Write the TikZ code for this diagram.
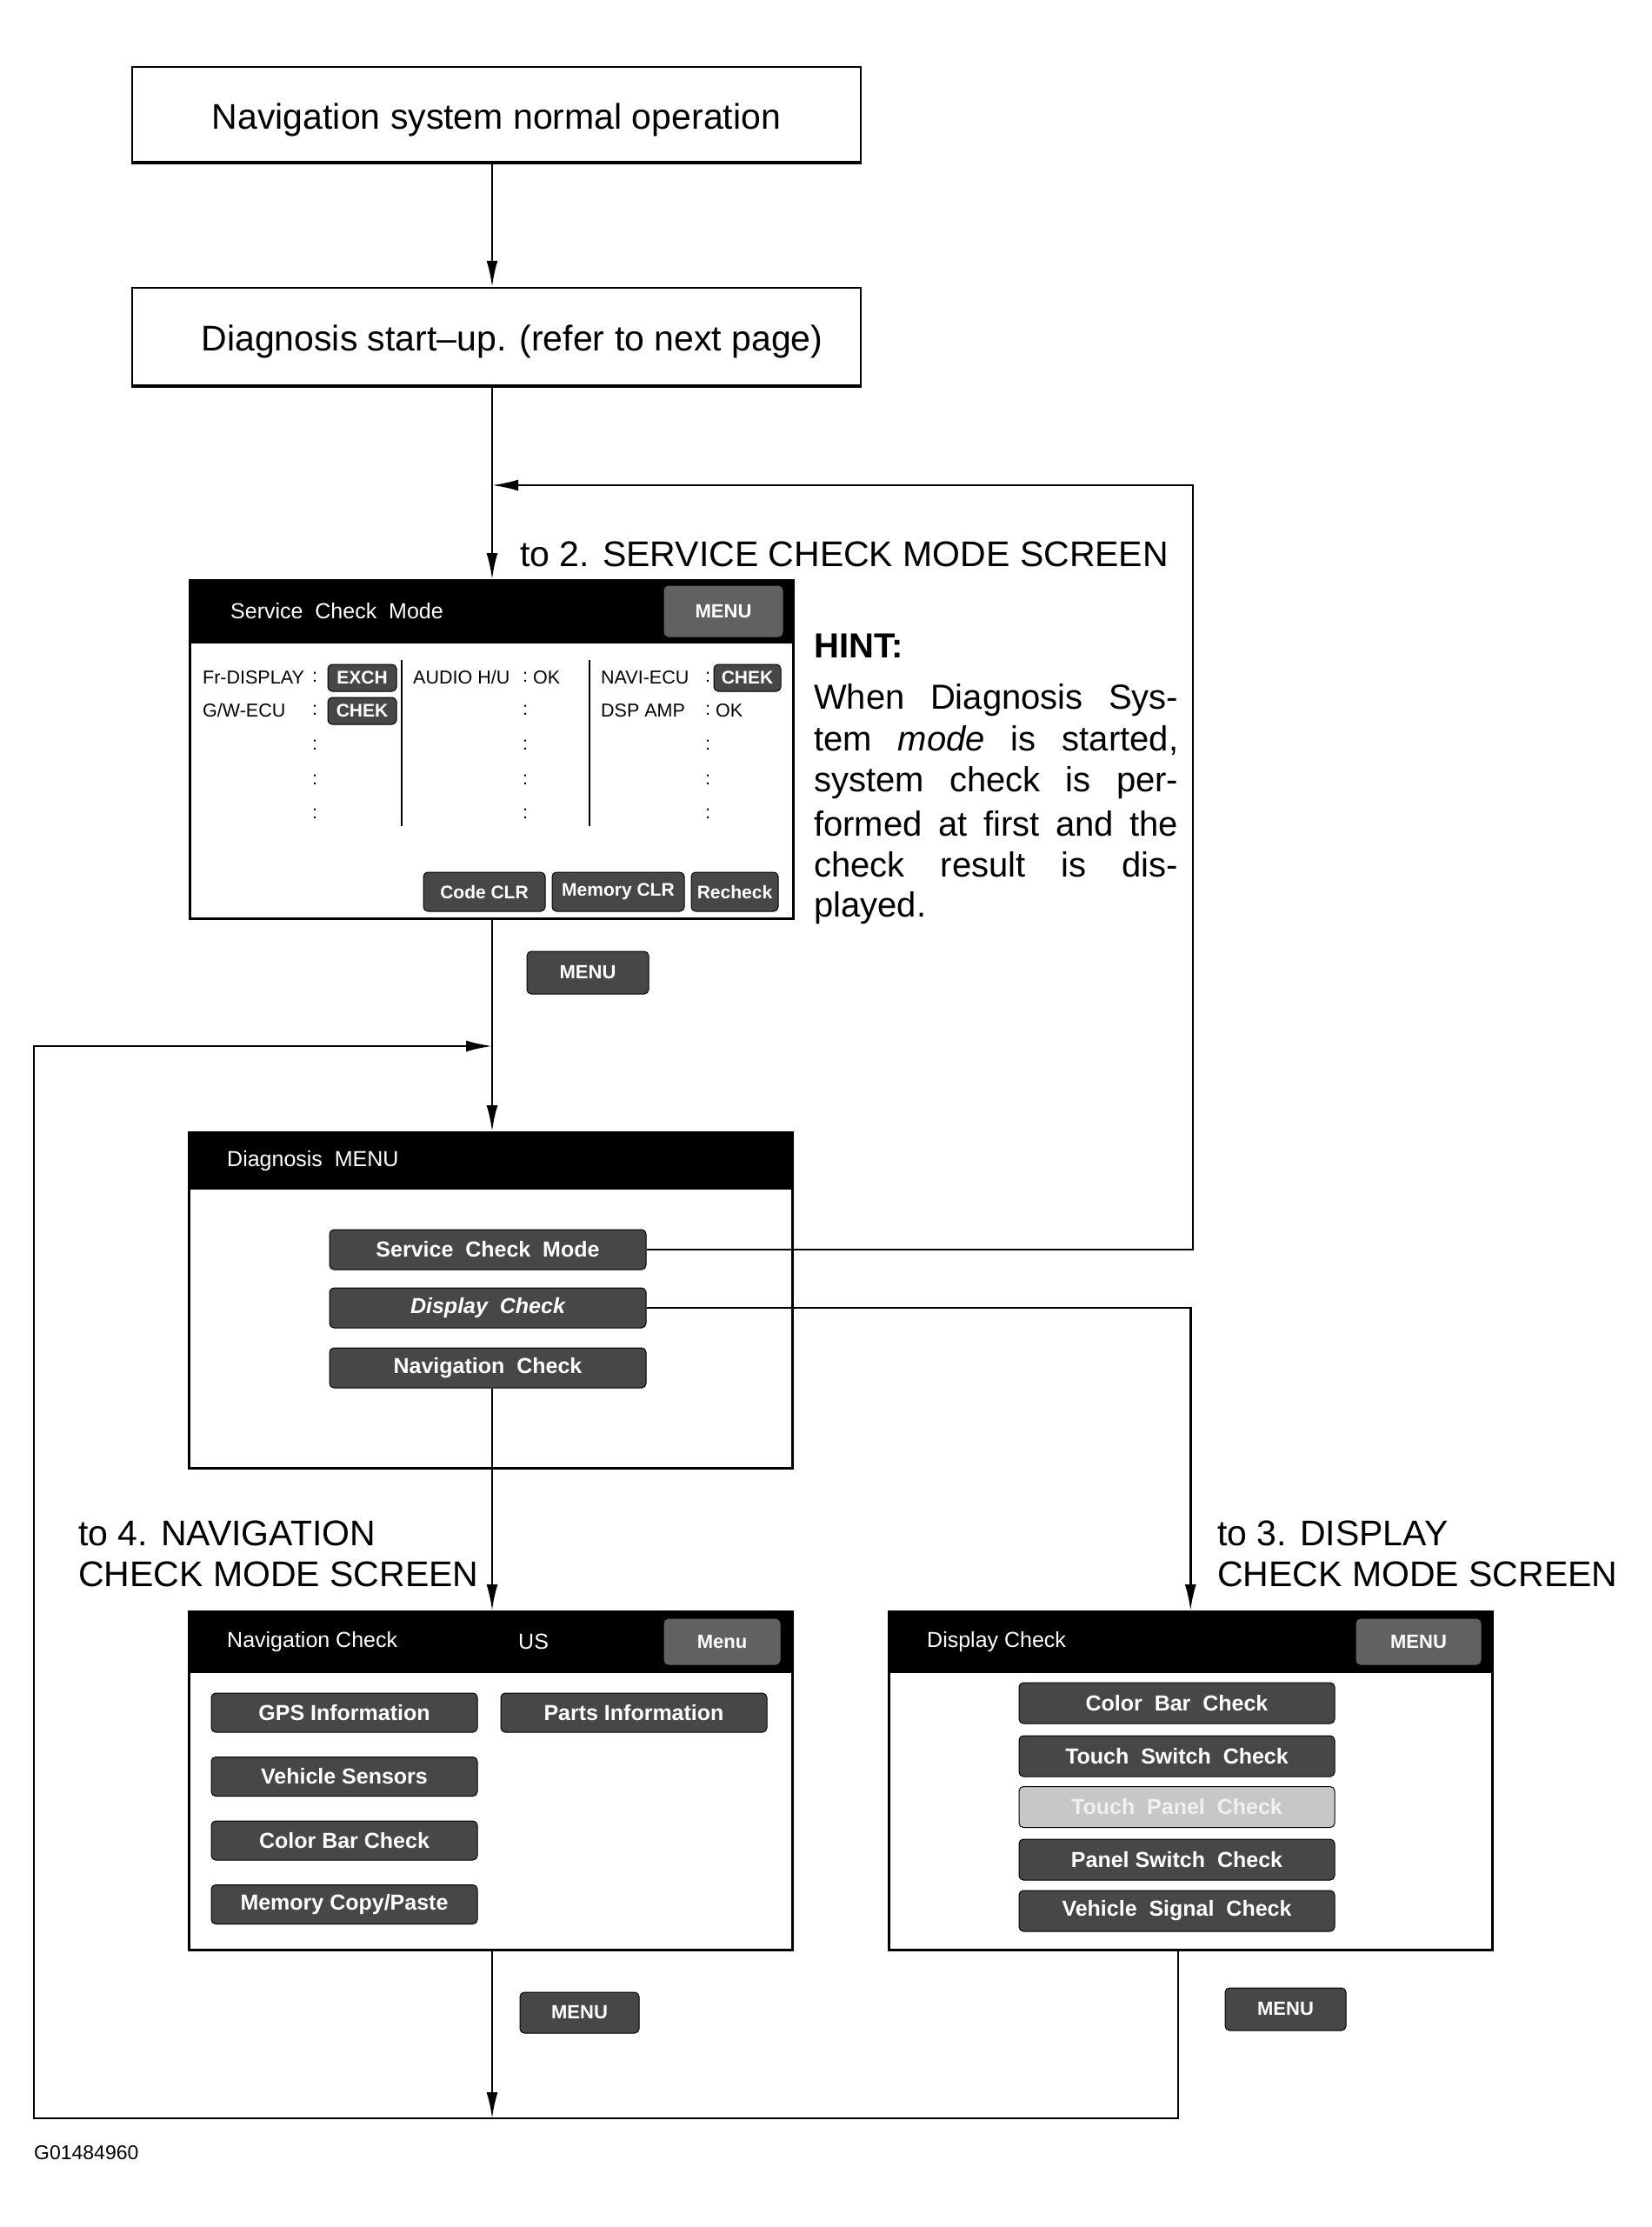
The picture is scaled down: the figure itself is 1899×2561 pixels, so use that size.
\documentclass[tikz,border=0pt]{standalone}
\usepackage{fontspec}
\setmainfont{Liberation Sans}
\usetikzlibrary{arrows.meta,calc}
\newcommand{\fsz}[2]{\fontsize{#1pt}{#2pt}\selectfont}
\begin{document}
\begin{tikzpicture}[x=1pt,y=-1pt,
  arr/.style={line width=2.5pt,-{Latex[length=30pt,width=13pt]}},
  conn/.style={line width=2pt},
  flowbox/.style={draw,line width=2.5pt,inner sep=0,minimum width=838pt,font=\fsz{41}{48}},
  screen/.style={draw,line width=2.5pt,inner sep=0,anchor=north west},
  btn/.style={draw=black,line width=1pt,fill=black!72,rounded corners=5pt,text=white,font=\bfseries\fsz{25}{30},inner sep=0},
  sbtn/.style={btn,font=\bfseries\fsz{21}{25}},
  hbtn/.style={btn,fill=black!62,draw=black!62,font=\bfseries\fsz{22}{26}},
  lbl/.style={font=\fsz{41}{47},anchor=west,inner sep=0,align=left},
  scrtxt/.style={font=\fsz{21.5}{26},anchor=west,inner sep=0},
  hdtxt/.style={font=\fsz{25}{30},text=white,anchor=west,inner sep=0},
  hint/.style={font=\fsz{40}{47},anchor=west,inner sep=0}]
\useasboundingbox[fill=white] (0,0) rectangle (1899,2561);
\coordinate (spine) at (566,0);

% flow boxes
\node[flowbox,minimum height=109pt] (n1) at (571,131.5) {\rule{0pt}{42pt}Navigation system normal operation};
\node[flowbox,minimum height=112pt] (n2) at (571,387) {\rule{0pt}{42pt}\hspace{36pt}Diagnosis start--up. (refer to next page)};
\draw[line width=4pt] (n1.south west) -- (n1.south east);
\draw[line width=4pt] (n2.south west) -- (n2.south east);

% ---------- Service Check Mode screen
\node[screen,minimum width=694pt,minimum height=389pt] (scm) at (217,666) {};
\fill (scm.north west) rectangle ($(scm.north east)+(0,74)$);
\node[hdtxt] (scmt) at (265,703) {Service\ \ Check\ \ Mode};
\node[hbtn,minimum width=136pt,minimum height=58pt] (scmm) at (832,703) {MENU};
% column 1
\node[scrtxt] (c1a) at (233,779) {Fr-DISPLAY};
\node[scrtxt] (c1b) at (233,817) {G/W-ECU};
\foreach \yy/\nm in {779/a,817/b,857/c,897/d,936/e} {\node[scrtxt] (k1\nm) at (359,\yy) {:};}
\node[sbtn,minimum width=79pt,minimum height=31pt] (exch) at (416.5,779.5) {EXCH};
\node[sbtn,minimum width=79pt,minimum height=31pt] (chek1) at (416.5,817.5) {CHEK};
\draw[conn] (462,759) -- (462,950);
% column 2
\node[scrtxt] (c2a) at (475,779) {AUDIO H/U};
\node[scrtxt] (c2ok) at (613,779) {OK};
\foreach \yy/\nm in {779/a,817/b,857/c,897/d,936/e} {\node[scrtxt] (k2\nm) at (601,\yy) {:};}
\draw[conn] (678,759) -- (678,950);
% column 3
\node[scrtxt] (c3a) at (691,779) {NAVI-ECU};
\node[scrtxt] (c3b) at (691,817) {DSP AMP};
\node[scrtxt] (c3ok) at (823,817) {OK};
\foreach \yy/\nm in {779/a,817/b,857/c,897/d,936/e} {\node[scrtxt] (k3\nm) at (811,\yy) {:};}
\node[sbtn,minimum width=77pt,minimum height=31pt] (chek2) at (859.5,779.5) {CHEK};
% bottom buttons
\node[sbtn,minimum width=140pt,minimum height=45pt] (ccl) at (557,1025.5) {Code CLR};
\node[sbtn,minimum width=152pt,minimum height=45pt] (mcl) at (711,1025.5) {Memory CLR};
\node[sbtn,minimum width=100pt,minimum height=45pt] (rch) at (845,1025.5) {Recheck};

% HINT
\node[hint,font=\bfseries\fsz{40}{47}] (h0) at (936,743) {HINT:};
\node[hint] (h1) at (936,805) {\makebox[419pt][s]{When Diagnosis Sys-}};
\node[hint] (h2) at (936,852) {\makebox[419pt][s]{tem \textit{mode} is started,}};
\node[hint] (h3) at (936,900) {\makebox[419pt][s]{system check is per-}};
\node[hint] (h4) at (936,947) {\makebox[419pt][s]{formed at first and the}};
\node[hint] (h5) at (936,994) {\makebox[419pt][s]{check result is dis-}};
\node[hint] (h6) at (936,1044) {played.};

% menu button between
\node[btn,font=\bfseries\fsz{22}{26},minimum width=140pt,minimum height=49pt] (m1) at (676,1118.5) {MENU};

% ---------- Diagnosis MENU screen
\node[screen,minimum width=694pt,minimum height=386pt] (dm) at (216,1301) {};
\fill (dm.north west) rectangle ($(dm.north east)+(0,67)$);
\node[hdtxt] (dmt) at (261,1335) {Diagnosis\ \ MENU};
\node[btn,minimum width=364pt,minimum height=46pt] (bscm) at (561,1437) {Service\ \ Check\ \ Mode};
\node[btn,minimum width=364pt,minimum height=46pt,font=\bfseries\itshape\fsz{25}{30}] (bdc) at (561,1504) {Display\ \ Check};
\node[btn,minimum width=364pt,minimum height=46pt] (bnc) at (561,1573) {Navigation\ \ Check};

% labels
\node[lbl] (l2) at (598,637) {to 2. SERVICE CHECK MODE SCREEN};
\node[lbl,anchor=north west] (l4) at (90,1749) {to 4. NAVIGATION\\CHECK MODE SCREEN};
\node[lbl,anchor=north west] (l3) at (1400,1749) {to 3. DISPLAY\\CHECK MODE SCREEN};

% ---------- Navigation Check screen
\node[screen,minimum width=694pt,minimum height=389pt] (nc) at (216,1852) {};
\fill (nc.north west) rectangle ($(nc.north east)+(0,72)$);
\node[hdtxt] (nct) at (261,1888) {Navigation Check};
\node[hdtxt] (ncus) at (596,1888) {US};
\node[hbtn,minimum width=133pt,minimum height=52pt] (ncm) at (830.5,1888) {Menu};
\node[btn,minimum width=306pt,minimum height=45pt] (gps) at (396,1969.5) {GPS Information};
\node[btn,minimum width=306pt,minimum height=45pt] (vs) at (396,2043) {Vehicle Sensors};
\node[btn,minimum width=306pt,minimum height=45pt] (cb) at (396,2116.5) {Color Bar Check};
\node[btn,minimum width=306pt,minimum height=45pt] (mcp) at (396,2190) {Memory Copy/Paste};
\node[btn,minimum width=306pt,minimum height=45pt] (pi) at (729,1969.5) {Parts Information};

% ---------- Display Check screen
\node[screen,minimum width=694pt,minimum height=389pt] (dc) at (1021,1852) {};
\fill (dc.north west) rectangle ($(dc.north east)+(0,72)$);
\node[hdtxt] (dct) at (1066,1888) {Display Check};
\node[hbtn,minimum width=143pt,minimum height=52pt] (dcm) at (1631.5,1888) {MENU};
\node[btn,minimum width=363pt,minimum height=47pt] (d1) at (1353.5,1958.5) {Color\ \ Bar\ \ Check};
\node[btn,minimum width=363pt,minimum height=47pt] (d2) at (1353.5,2019.5) {Touch\ \ Switch\ \ Check};
\node[btn,minimum width=363pt,minimum height=47pt,fill=black!22,text=black!6] (d3) at (1353.5,2078) {Touch\ \ Panel\ \ Check};
\node[btn,minimum width=363pt,minimum height=47pt] (d4) at (1353.5,2138.5) {Panel Switch\ \ Check};
\node[btn,minimum width=363pt,minimum height=47pt] (d5) at (1353.5,2197.5) {Vehicle\ \ Signal\ \ Check};

% menu buttons below
\node[btn,font=\bfseries\fsz{22}{26},minimum width=137pt,minimum height=47pt] (m2) at (666.5,2314.5) {MENU};
\node[btn,font=\bfseries\fsz{22}{26},minimum width=139pt,minimum height=49pt] (m3) at (1478.5,2310.5) {MENU};

% figure code
\node[font=\fsz{23}{28},anchor=west,inner sep=0] (code) at (39,2476) {G01484960};

% ---------- connectors
\coordinate (r1) at (1372,558);
\coordinate (lb) at (39,2436);
\coordinate (lt) at (39,1203);
\coordinate (dcx) at (1355,0);
\draw[arr] (n1.south -| spine) -- (n2.north -| spine);
\draw[arr] (n2.south -| spine) -- (scm.north -| spine);
\draw[arr] (bscm.east) -| (r1) -- (r1 -| spine);
\draw[arr] (scm.south -| spine) -- (dm.north -| spine);
\draw[arr] (dc.south -| dcx) -- (lb -| dcx) -- (lb) -- (lt) -- (lt -| spine);
\draw[arr] (bdc.east) -| (dc.north);
\draw[arr] (bnc.south -| spine) -- (nc.north -| spine);
\draw[arr] (nc.south -| spine) -- (lb -| spine);
\end{tikzpicture}
\end{document}
